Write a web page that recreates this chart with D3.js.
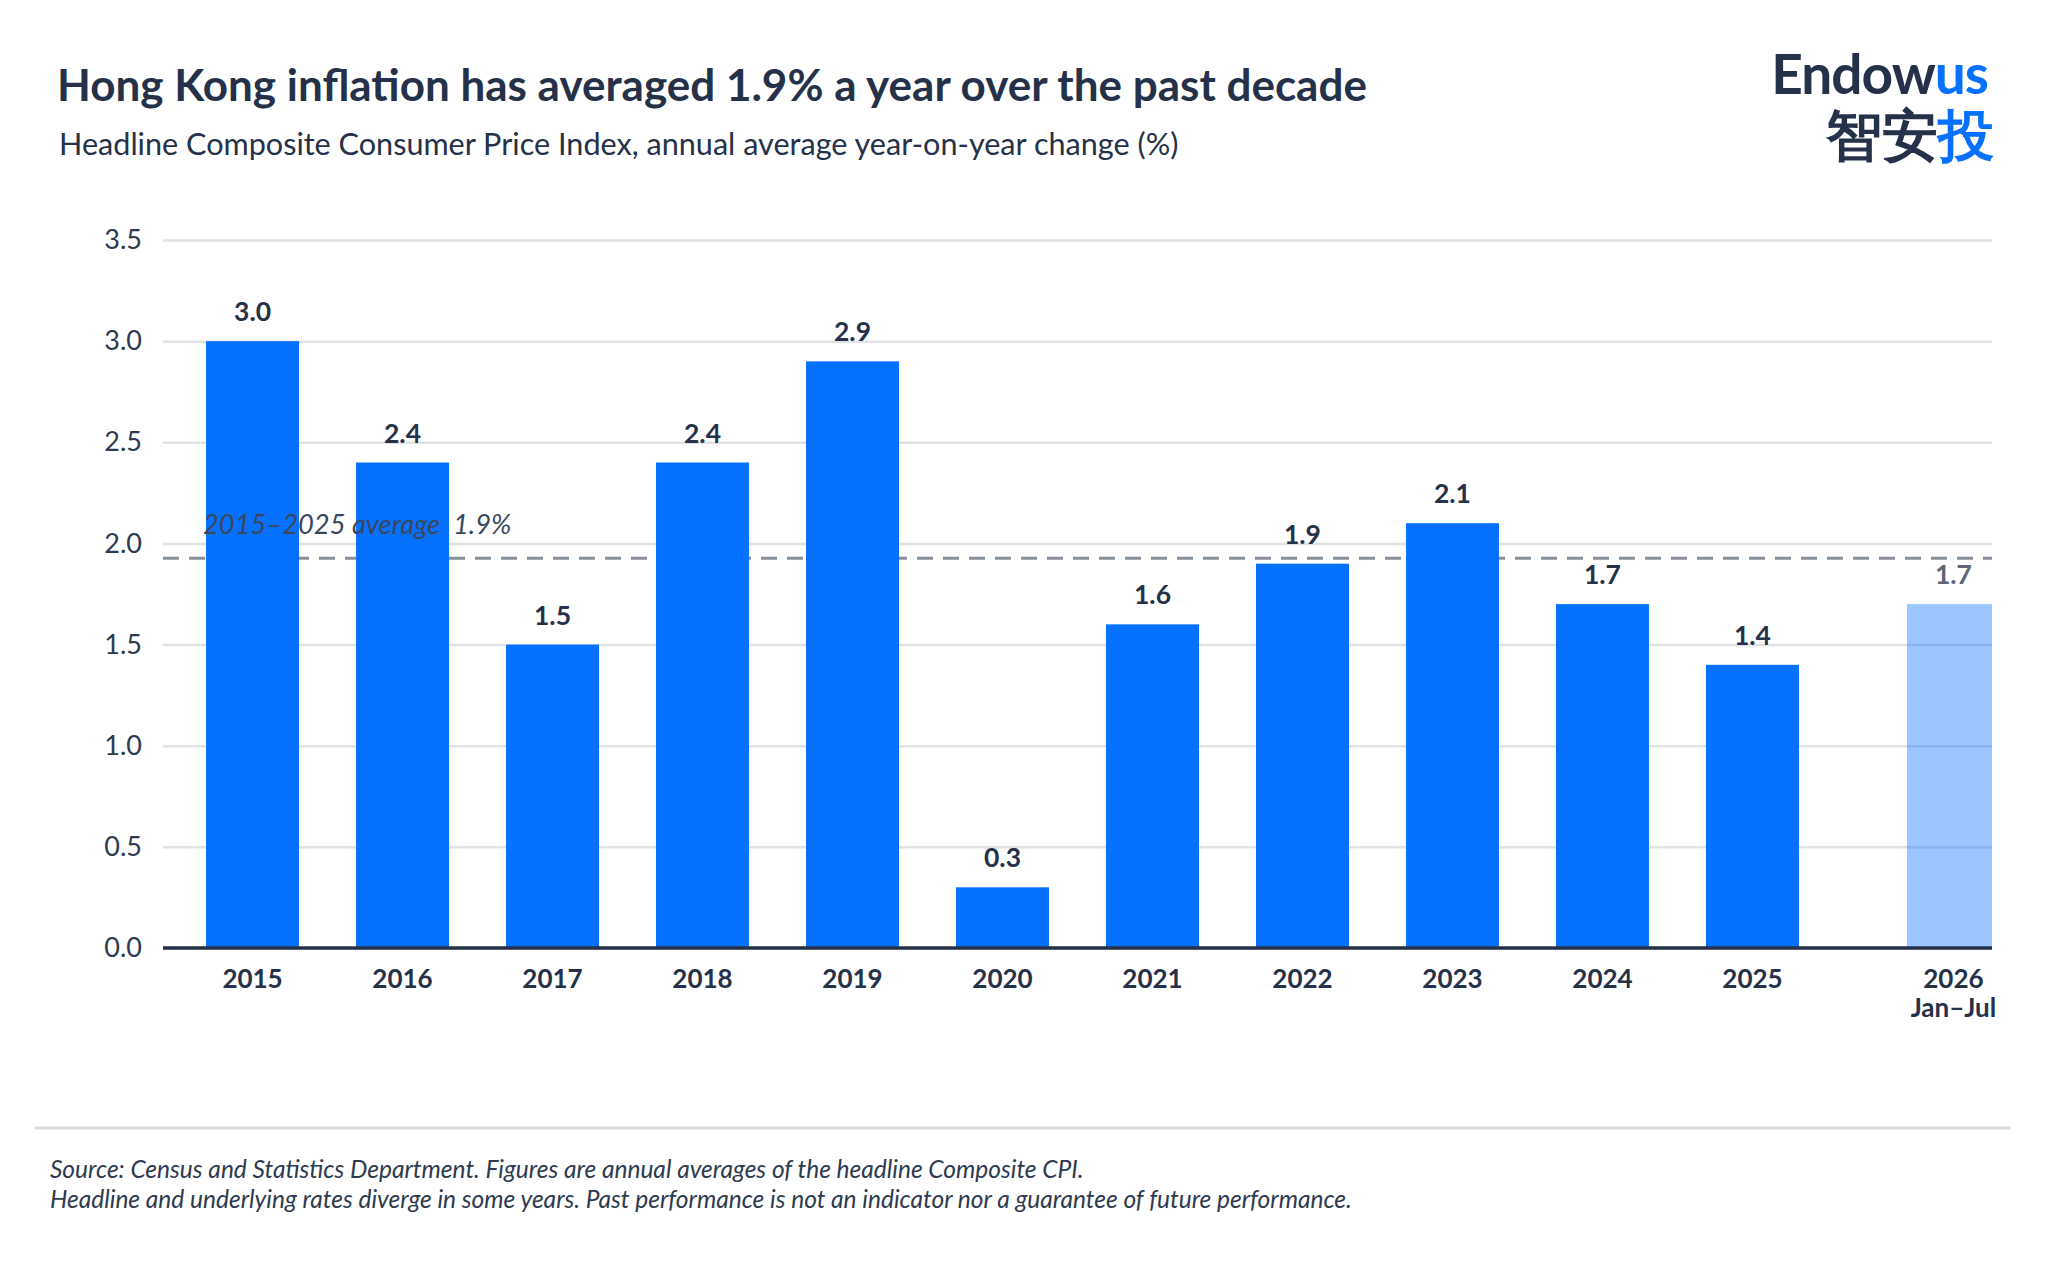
<!DOCTYPE html>
<html>
<head>
<meta charset="utf-8">
<script src="https://cdn.jsdelivr.net/npm/d3@7"></script>
<style>
  body { margin: 0; background: #fff; }
  text { font-family: Lato, "Noto Sans", sans-serif; }
</style>
</head>
<body>
<div id="chart"></div>
<script>
// datos
const years = ['2015', '2016', '2017', '2018', '2019', '2020', '2021', '2022', '2023', '2024', '2025', '2026']
const cpi = [3.0, 2.4, 1.5, 2.4, 2.9, 0.3, 1.6, 1.9, 2.1, 1.7, 1.4, 1.7]
const partialYear = '2026'
const partialLabel = 'Jan–Jul'
const yTicks = [0, 0.5, 1.0, 1.5, 2.0, 2.5, 3.0, 3.5]

const data = years.map((y, i) => ({ year: y, value: cpi[i], partial: y === partialYear }))
const fullYears = data.filter(d => !d.partial)
const avg = d3.mean(fullYears, d => d.value)

const width = 2048
const height = 1270
const margin = { top: 240, right: 56, bottom: 322, left: 163 }
const plotW = width - margin.left - margin.right
const plotH = height - margin.top - margin.bottom

const navy = '#253149'
const blue = '#0671ff'

const svg = d3.select('#chart').append('svg').attr('width', width).attr('height', height)
svg.append('rect').attr('width', width).attr('height', height).attr('fill', '#fff')

// titulos
svg.append('text').attr('x', 57).attr('y', 101)
    .attr('font-size', 44).attr('font-weight', 700).attr('fill', navy)
    .text('Hong Kong inflation has averaged 1.9% a year over the past decade')
svg.append('text').attr('x', 59).attr('y', 155)
    .attr('font-size', 30.6).attr('fill', navy)
    .text('Headline Composite Consumer Price Index, annual average year-on-year change (%)')

// logo
const logo = svg.append('g')
const l1 = logo.append('text').attr('x', 1988).attr('y', 94).attr('text-anchor', 'end')
    .attr('font-family', '"Noto Sans", sans-serif').attr('font-size', 55).attr('font-weight', 700)
    .attr('letter-spacing', -1)
l1.append('tspan').attr('fill', navy).text('Endow')
l1.append('tspan').attr('fill', blue).text('us')
const l2 = logo.append('text').attr('x', 1994).attr('y', 155).attr('text-anchor', 'end')
    .attr('font-family', '"Noto Sans CJK SC", sans-serif').attr('font-size', 56).attr('font-weight', 700)
l2.append('tspan').attr('fill', navy).text('智安')
l2.append('tspan').attr('fill', blue).text('投')

// escalas
const x = d3.scaleBand().domain(years).range([0, plotW]).paddingInner(0.38).paddingOuter(0.287)
const y = d3.scaleLinear().domain([0, 3.5]).range([plotH, 0])
const shift = d => d.partial ? x.step() * 0.34 : 0

const g = svg.append('g').attr('transform', `translate(${margin.left}, ${margin.top})`)
g.append('clipPath').attr('id', 'plotClip').append('rect')
    .attr('x', 0).attr('y', -20).attr('width', plotW).attr('height', plotH + 20)

// rejilla
const yAxis = d3.axisLeft(y).tickValues(yTicks).tickFormat(d3.format('.1f')).tickSize(-plotW).tickPadding(21)
const yAxisGroup = g.append('g').attr('class', 'yAxisGroup').call(yAxis)
yAxisGroup.select('.domain').remove()
yAxisGroup.selectAll('line').attr('stroke', '#e1e2e8').attr('stroke-width', 2.5)
yAxisGroup.selectAll('text').attr('font-size', 27).attr('fill', '#2d3a4f')
    .attr('font-family', 'Lato, sans-serif')

// media
g.append('line').attr('x1', 0).attr('x2', plotW).attr('y1', y(avg)).attr('y2', y(avg))
    .attr('stroke', '#878f9b').attr('stroke-width', 3).attr('stroke-dasharray', '16 10')

// barras
g.append('g').attr('clip-path', 'url(#plotClip)')
    .selectAll('rect').data(data).enter().append('rect')
    .attr('x', d => x(d.year) + shift(d))
    .attr('y', d => y(d.value))
    .attr('width', x.bandwidth())
    .attr('height', d => y(0) - y(d.value))
    .attr('fill', blue)
    .attr('fill-opacity', d => d.partial ? 0.4 : 1)

// eje x
const xAxisGroup = g.append('g').attr('transform', `translate(0, ${plotH})`)
xAxisGroup.append('line').attr('x1', 0).attr('x2', plotW).attr('stroke', navy).attr('stroke-width', 3.5)
xAxisGroup.selectAll('text.year').data(data).enter().append('text')
    .attr('class', 'year')
    .attr('x', d => x(d.year) + x.bandwidth() / 2 + shift(d))
    .attr('y', 40)
    .attr('text-anchor', 'middle').attr('font-size', 26).attr('font-weight', 700).attr('fill', navy)
    .text(d => d.year)
xAxisGroup.selectAll('text.sub').data(data.filter(d => d.partial)).enter().append('text')
    .attr('class', 'sub')
    .attr('x', d => x(d.year) + x.bandwidth() / 2 + shift(d))
    .attr('y', 69)
    .attr('text-anchor', 'middle').attr('font-size', 26).attr('font-weight', 700).attr('fill', navy)
    .text(partialLabel)

// etiquetas de valor
g.selectAll('text.val').data(data).enter().append('text')
    .attr('class', 'val')
    .attr('x', d => x(d.year) + x.bandwidth() / 2 + shift(d))
    .attr('y', d => y(d.value) - 20)
    .attr('text-anchor', 'middle').attr('font-size', 26.5).attr('font-weight', 700)
    .attr('fill', d => d.partial ? '#5d6675' : navy)
    .text(d => d3.format('.1f')(d.value))

// anotacion
g.append('text').attr('x', 40).attr('y', y(avg) - 24)
    .attr('font-size', 27.3).attr('font-style', 'italic').attr('fill', '#3a475b')
    .style('white-space', 'pre')
    .text(`${fullYears[0].year}–${fullYears[fullYears.length - 1].year} average  ${d3.format('.1f')(avg)}%`)

// pie
svg.append('line').attr('x1', 35).attr('x2', 2011).attr('y1', 1128).attr('y2', 1128)
    .attr('stroke', '#dcdcdc').attr('stroke-width', 3)
svg.append('text').attr('x', 50).attr('y', 1178)
    .attr('font-size', 24.5).attr('font-style', 'italic').attr('fill', '#2d3a4f')
    .text('Source: Census and Statistics Department. Figures are annual averages of the headline Composite CPI.')
svg.append('text').attr('x', 50).attr('y', 1208)
    .attr('font-size', 24.5).attr('font-style', 'italic').attr('fill', '#2d3a4f')
    .text('Headline and underlying rates diverge in some years. Past performance is not an indicator nor a guarantee of future performance.')
</script>
</body>
</html>
